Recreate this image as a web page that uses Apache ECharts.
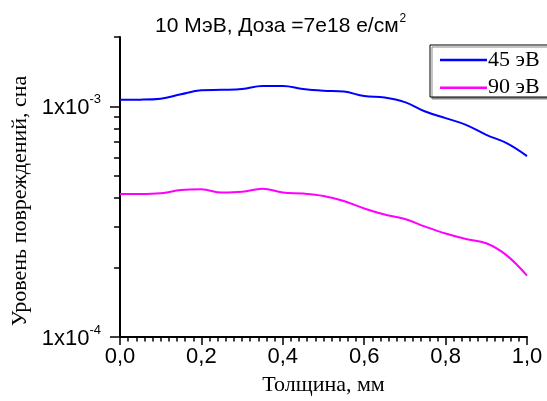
<!DOCTYPE html>
<html>
<head>
<meta charset="utf-8">
<script src="https://cdn.jsdelivr.net/npm/echarts@6/dist/echarts.min.js"></script>
<style>
    html, body { margin: 0; padding: 0; background: #fff; }
    #chart { width: 547px; height: 401px; }
</style>
</head>
<body>
<div id="chart"></div>
<script>
// толщина, мм
const thickness = [0, 0.05, 0.1, 0.15, 0.2, 0.25, 0.3, 0.35, 0.4, 0.45, 0.5,
    0.55, 0.6, 0.65, 0.7, 0.75, 0.8, 0.85, 0.9, 0.95, 1.0];
// 45 эВ
const dpa45 = [1.069e-3, 1.07e-3, 1.08e-3, 1.13e-3, 1.174e-3, 1.18e-3, 1.19e-3, 1.226e-3, 1.226e-3, 1.19e-3, 1.17e-3,
    1.16e-3, 1.109e-3, 1.094e-3, 1.044e-3, 0.951e-3, 0.89e-3, 0.832e-3, 0.753e-3, 0.693e-3, 0.609e-3];
// 90 эВ
const dpa90 = [4.17e-4, 4.17e-4, 4.2e-4, 4.34e-4, 4.37e-4, 4.23e-4, 4.26e-4, 4.40e-4, 4.23e-4, 4.19e-4, 4.09e-4,
    3.89e-4, 3.61e-4, 3.40e-4, 3.25e-4, 3.01e-4, 2.81e-4, 2.66e-4, 2.55e-4, 2.26e-4, 1.845e-4];

const seriesNames = ['45 эВ', '90 эВ'];
const xTicks = [0, 0.2, 0.4, 0.6, 0.8, 1.0];
const yMajorTicks = [1e-4, 1e-3];
const yMinorTicks = [2e-4, 3e-4, 4e-4, 5e-4, 6e-4, 7e-4, 8e-4, 9e-4, 2e-3];

const SANS = 'Liberation Sans';
const SERIF = 'Liberation Serif';

function pairs(xs, ys) {
    return xs.map(function (x, i) { return [x, ys[i]]; });
}

const chart = echarts.init(document.getElementById('chart'), null, {renderer: 'canvas'});

const option = {
    backgroundColor: '#fff',
    animation: false,
    title: {
        text: '{t|10 МэВ, Доза =7е18 е/см}{s|2}',
        left: 150,
        top: 8,
        textStyle: {
            fontWeight: 'normal',
            rich: {
                t: {fontFamily: SANS, fontSize: 21, fontWeight: 'normal', color: '#000', lineHeight: 24, verticalAlign: 'bottom'},
                s: {fontFamily: SANS, fontSize: 12, fontWeight: 'normal', color: '#000', lineHeight: 24, verticalAlign: 'top', padding: [0, 0, 10, 1]}
            }
        }
    },
    // рамка легенды уходит за правый край, как в оригинале
    graphic: [{
        type: 'rect',
        z: 1,
        shape: {x: 430, y: 45, width: 140, height: 52},
        style: {
            fill: '#fff',
            stroke: '#000',
            lineWidth: 1,
            shadowColor: '#8a8a8a',
            shadowBlur: 0,
            shadowOffsetX: 2,
            shadowOffsetY: 2
        }
    }],
    legend: {
        data: seriesNames,
        orient: 'vertical',
        left: 430,
        top: 45,
        padding: [4, 4, 4, 10],
        itemGap: 5.7,
        itemWidth: 47,
        itemHeight: 2.5,
        icon: 'rect',
        z: 5,
        textStyle: {
            fontFamily: SERIF,
            fontSize: 22,
            color: '#000',
            lineHeight: 20,
            padding: [0, 0, 0, -4]
        }
    },
    grid: {
        left: 120,
        right: 20,
        top: 37,
        bottom: 63
    },
    xAxis: {
        type: 'value',
        min: 0,
        max: 1,
        interval: 0.2,
        name: 'Толщина, мм',
        nameLocation: 'middle',
        nameGap: 37,
        nameTextStyle: {fontFamily: SERIF, fontSize: 22, color: '#000'},
        axisLine: {lineStyle: {color: '#000', width: 2}},
        axisTick: {length: 8, lineStyle: {color: '#000', width: 1.5}},
        minorTick: {show: true, splitNumber: 10, length: 4.5, lineStyle: {color: '#000', width: 1.5}},
        splitLine: {show: false},
        axisLabel: {
            fontFamily: SANS,
            fontSize: 22,
            color: '#000',
            margin: 9,
            customValues: xTicks,
            formatter: function (v) { return v.toFixed(1).replace('.', ','); }
        }
    },
    yAxis: [{
        type: 'log',
        min: 1e-4,
        max: 2e-3,
        name: 'Уровень повреждений, сна',
        nameLocation: 'middle',
        nameGap: 88,
        nameTextStyle: {fontFamily: SERIF, fontSize: 22, color: '#000', padding: [0, 28, 0, 0]},
        axisLine: {show: true, lineStyle: {color: '#000', width: 2}},
        axisTick: {length: 10, customValues: yMajorTicks, lineStyle: {color: '#000', width: 1.5}},
        splitLine: {show: false},
        axisLabel: {
            margin: 19,
            customValues: yMajorTicks,
            formatter: function (v) {
                const e = Math.round(Math.log10(v));
                return '{b|1x10}{s|' + e + '}';
            },
            rich: {
                b: {fontFamily: SANS, fontSize: 22, color: '#000', lineHeight: 26, verticalAlign: 'bottom'},
                s: {fontFamily: SANS, fontSize: 13, color: '#000', lineHeight: 26, verticalAlign: 'top', padding: [0, 0, 12, 0]}
            }
        }
    }, {
        type: 'log',
        min: 1e-4,
        max: 2e-3,
        position: 'left',
        axisLine: {show: false},
        axisTick: {length: 6, customValues: yMinorTicks, lineStyle: {color: '#000', width: 1.5}},
        axisLabel: {show: false},
        splitLine: {show: false}
    }],
    series: [{
        name: seriesNames[0],
        type: 'line',
        data: pairs(thickness, dpa45),
        smooth: 0.4,
        symbol: 'none',
        lineStyle: {color: '#0000ff', width: 2},
        itemStyle: {color: '#0000ff'}
    }, {
        name: seriesNames[1],
        type: 'line',
        data: pairs(thickness, dpa90),
        smooth: 0.4,
        symbol: 'none',
        lineStyle: {color: '#ff00ff', width: 2},
        itemStyle: {color: '#ff00ff'}
    }]
};

chart.setOption(option);

window.onresize = function () {
    chart.resize();
};
</script>
</body>
</html>
